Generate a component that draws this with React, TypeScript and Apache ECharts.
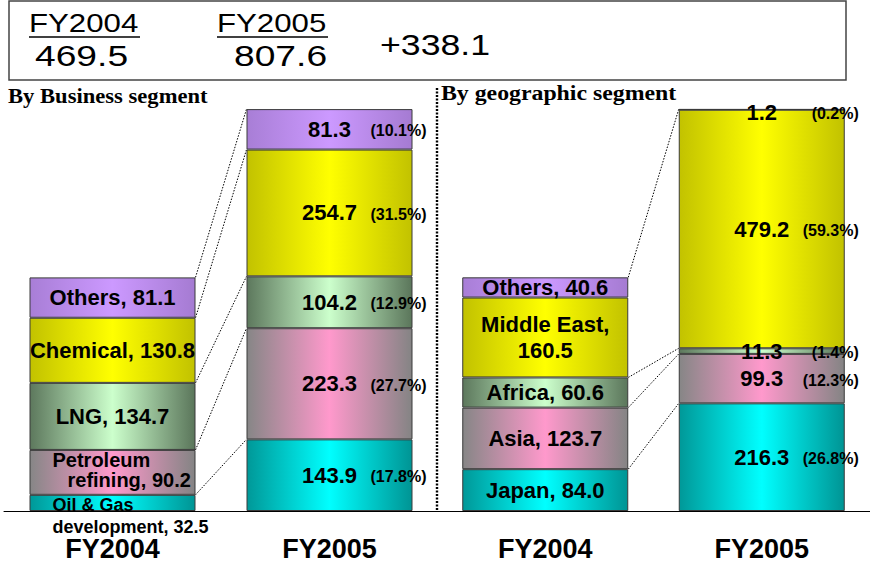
import React, { useEffect, useRef } from "react";
import * as echarts from "echarts";

const categories = ["FY2004", "FY2005"];

const bizNames = ["Oil & Gas development", "Petroleum refining", "LNG", "Chemical", "Others"];
const biz2004 = [32.5, 90.2, 134.7, 130.8, 81.1];
const biz2005 = [143.9, 223.3, 104.2, 254.7, 81.3];
const bizShare2005 = ["17.8", "27.7", "12.9", "31.5", "10.1"];

const geoNames = ["Japan", "Asia", "Africa", "Middle East", "Others"];
const geo2004 = [84.0, 123.7, 60.6, 160.5, 40.6];
const geo2005 = [216.3, 99.3, 11.3, 479.2, 1.2];
const geoShare2005 = ["26.8", "12.3", "1.4", "59.3", "0.2"];
const geoLinkShown = [true, true, true, false, true];

const totalYears = ["FY2004", "FY2005"];
const totalValues = ["469.5", "807.6"];
const totalChange = "+338.1";

const palette = [
  ["#009898", "#00ffff", "#009494"],
  ["#868686", "#ff99cc", "#848484"],
  ["#5d785d", "#ccffcc", "#5b765b"],
  ["#c2c200", "#ffff00", "#c2c200"],
  ["#a87ed6", "#cc99ff", "#a57bd2"],
];

const FONT = "Liberation Sans, Arial, sans-serif";
const BAR_W = 166;

function grad(c: string[]) {
  return {
    type: "linear",
    x: 0,
    y: 0,
    x2: 1,
    y2: 0,
    colorStops: [
      { offset: 0, color: c[0] },
      { offset: 0.5, color: c[1] },
      { offset: 1, color: c[2] },
    ],
  };
}

const shareRich = {
  s: { width: 62, fontSize: 16 },
  v: { width: 70, align: "center", fontSize: 22, fontWeight: "bold", fontFamily: FONT, color: "#000" },
  p: { width: 62, align: "right", fontSize: 16, fontWeight: "bold", fontFamily: FONT, color: "#000", padding: [3, 0, 0, 0] },
};

function label2005(value: number, share: string, extra: any = {}) {
  return {
    show: true,
    position: "inside",
    formatter: `{s| }{v|${value.toFixed(1)}}{p|(${share}%)}`,
    rich: shareRich,
    ...extra,
  };
}

function baseLabel2004(text: string) {
  return {
    show: true,
    position: "inside",
    formatter: text,
    fontSize: 22,
    fontWeight: "bold",
    fontFamily: FONT,
    color: "#000",
    lineHeight: 26,
  };
}

function bizLabel2004(i: number) {
  const v = biz2004[i].toFixed(1);
  if (i === 0) {
    return {
      show: true,
      position: [23, -1],
      align: "left",
      verticalAlign: "top",
      formatter: `Oil & Gas\ndevelopment, ${v}`,
      fontSize: 18,
      lineHeight: 22,
      fontWeight: "bold",
      fontFamily: FONT,
      color: "#000",
    };
  }
  if (i === 1) {
    return {
      show: true,
      position: [23, 0],
      align: "left",
      verticalAlign: "top",
      formatter: `{a|Petroleum}\n{b|refining, ${v}}`,
      rich: {
        a: { fontSize: 20, lineHeight: 20, fontWeight: "bold", fontFamily: FONT, color: "#000" },
        b: { fontSize: 20, lineHeight: 20, fontWeight: "bold", fontFamily: FONT, color: "#000", padding: [0, 0, 0, 15] },
      },
    };
  }
  return baseLabel2004(`${bizNames[i]}, ${v}`);
}

function geoLabel2004(i: number) {
  const v = geo2004[i].toFixed(1);
  if (geoNames[i] === "Middle East") return baseLabel2004(`Middle East,\n${v}`);
  return baseLabel2004(`${geoNames[i]}, ${v}`);
}

function cumulative(arr: number[]) {
  const out: number[] = [];
  let s = 0;
  arr.forEach((v) => {
    s += v;
    out.push(s);
  });
  return out;
}

function connectorSeries(a: number[], b: number[], axis: number, shown: boolean[]) {
  const ca = cumulative(a);
  const cb = cumulative(b);
  const data = ca.map((v, i) => [0, v, cb[i]]).filter((_, i) => shown[i]);
  return {
    type: "custom",
    xAxisIndex: axis,
    yAxisIndex: axis,
    silent: true,
    z: 1,
    encode: { x: 0, y: [1, 2] },
    data,
    renderItem: (params: any, api: any) => {
      const p1 = api.coord([0, api.value(1)]);
      const p2 = api.coord([1, api.value(2)]);
      return {
        type: "line",
        shape: { x1: p1[0] + BAR_W / 2, y1: p1[1], x2: p2[0] - BAR_W / 2, y2: p2[1] },
        style: { stroke: "#000", lineWidth: 1, lineDash: [1.5, 1.5] },
      };
    },
  };
}

function barSeries(names: string[], d2004: number[], d2005: number[], shares: string[], axis: number, lab2004: (i: number) => any) {
  return names.map((name, i) => ({
    type: "bar",
    name,
    stack: "s" + axis,
    xAxisIndex: axis,
    yAxisIndex: axis,
    barWidth: BAR_W,
    z: 2,
    itemStyle: { color: grad(palette[i]), borderColor: "#3a3a3a", borderWidth: 1 },
    data: [
      { value: d2004[i], label: lab2004(i) },
      {
        value: d2005[i],
        label: label2005(d2005[i], shares[i], d2005[i] < 3 ? { offset: [0, 3] } : {}),
      },
    ],
  }));
}

const axisCommon = {
  type: "category",
  data: categories,
  boundaryGap: true,
  axisLine: { lineStyle: { color: "#000", width: 1 } },
  axisTick: { inside: true, length: 6, lineStyle: { color: "#000" } },
  axisLabel: { fontSize: 27, lineHeight: 22, fontWeight: "bold", fontFamily: FONT, color: "#000", margin: 27 },
};

const yCommon = { type: "value", min: 0, max: 900, show: false };

function boxText(text: string, x: number, y: number, size: number, sx: number) {
  return {
    type: "text",
    x,
    y,
    scaleX: sx,
    style: { text, fontSize: size, fontFamily: FONT, fill: "#000", textAlign: "left", textVerticalAlign: "middle" },
  };
}

export default function App() {
  const ref = useRef<HTMLDivElement>(null);
  useEffect(() => {
    document.body.style.margin = "0";
    const chart = echarts.init(ref.current!, null, { renderer: "svg" });
    const option: any = {
      animation: false,
      backgroundColor: "#fff",
      grid: [
        { left: 4, width: 434, top: 63, bottom: 56 },
        { left: 437, width: 433, top: 63, bottom: 56 },
      ],
      xAxis: [
        { ...axisCommon, gridIndex: 0 },
        { ...axisCommon, gridIndex: 1 },
      ],
      yAxis: [
        { ...yCommon, gridIndex: 0 },
        { ...yCommon, gridIndex: 1 },
      ],
      series: [
        ...barSeries(bizNames, biz2004, biz2005, bizShare2005, 0, bizLabel2004),
        ...barSeries(geoNames, geo2004, geo2005, geoShare2005, 1, geoLabel2004),
        connectorSeries(biz2004, biz2005, 0, [true, true, true, true, true]),
        connectorSeries(geo2004, geo2005, 1, geoLinkShown),
      ],
      graphic: [
        {
          type: "rect",
          shape: { x: 9, y: 1, width: 837, height: 79 },
          style: { fill: "none", stroke: "#444", lineWidth: 1.5 },
        },
        boxText(totalYears[0], 29, 23, 26, 1.2),
        { type: "line", shape: { x1: 29, y1: 37, x2: 140, y2: 37 }, style: { stroke: "#000", lineWidth: 1.5 } },
        boxText(totalValues[0], 35, 55, 30, 1.24),
        boxText(totalYears[1], 217, 23, 26, 1.2),
        { type: "line", shape: { x1: 217, y1: 37, x2: 328, y2: 37 }, style: { stroke: "#000", lineWidth: 1.5 } },
        boxText(totalValues[1], 234, 55, 30, 1.24),
        boxText(totalChange, 380, 45, 29, 1.23),
        {
          type: "text",
          x: 8,
          y: 96,
          scaleX: 1.13,
          style: { text: "By Business segment", fontSize: 20, fontWeight: "bold", fontFamily: "Liberation Serif, Times New Roman, serif", fill: "#000", textAlign: "left", textVerticalAlign: "middle" },
        },
        {
          type: "text",
          x: 441,
          y: 93,
          scaleX: 1.19,
          style: { text: "By geographic segment", fontSize: 20, fontWeight: "bold", fontFamily: "Liberation Serif, Times New Roman, serif", fill: "#000", textAlign: "left", textVerticalAlign: "middle" },
        },
        {
          type: "line",
          shape: { x1: 437, y1: 88, x2: 437, y2: 511 },
          style: { stroke: "#000", lineWidth: 2.4, lineDash: [2, 1.5] },
        },
      ],
    };
    chart.setOption(option);
    return () => chart.dispose();
  }, []);
  return <div ref={ref} style={{ width: 870, height: 567 }} />;
}
